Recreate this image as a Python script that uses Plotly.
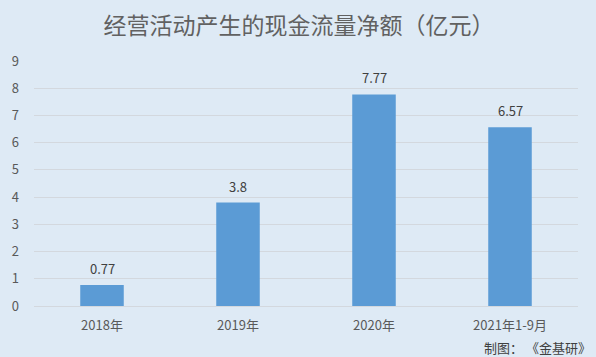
import plotly.graph_objects as go

categories = ["2018年", "2019年", "2020年", "2021年1-9月"]
values = [0.77, 3.8, 7.77, 6.57]
labels = ["0.77", "3.8", "7.77", "6.57"]
y_ticks = list(range(0, 10))

font_family = "Noto Sans CJK SC, Noto Sans, sans-serif"

fig = go.Figure(
    go.Bar(
        x=categories,
        y=values,
        marker=dict(color="#5b9bd5", line=dict(width=0)),
        hoverinfo="x+y",
    )
)

for cat, val, lab in zip(categories, values, labels):
    fig.add_annotation(
        x=cat,
        y=val,
        text=lab,
        showarrow=False,
        yanchor="bottom",
        yshift=5,
        font=dict(size=13, color="#404040", family=font_family),
    )

fig.update_layout(
    width=596,
    height=357,
    paper_bgcolor="#deeaf5",
    plot_bgcolor="#deeaf5",
    margin=dict(l=31, r=18, t=61, b=51),
    bargap=0.68,
    showlegend=False,
    title=dict(
        text="经营活动产生的现金流量净额（亿元）",
        xref="container",
        yref="container",
        x=299 / 596,
        xanchor="center",
        y=1 - 26 / 357,
        yanchor="middle",
        font=dict(size=23, color="#616161", family=font_family),
    ),
    font=dict(family=font_family, color="#595959", size=13),
)

fig.update_xaxes(
    showgrid=False,
    showline=False,
    ticks="",
    ticklabelstandoff=10,
    tickfont=dict(size=13, color="#595959"),
)
fig.update_yaxes(
    range=[0, 9],
    tickvals=y_ticks,
    showgrid=True,
    gridcolor="#d3d8de",
    gridwidth=1,
    zeroline=True,
    zerolinecolor="#d3d8de",
    zerolinewidth=1,
    ticks="",
    ticklabelstandoff=14,
    tickfont=dict(size=13, color="#595959"),
)

fig.add_annotation(
    text="制图： 《金基研》",
    xref="paper",
    yref="paper",
    x=1.0,
    xanchor="right",
    y=0,
    yanchor="middle",
    xshift=15,
    yshift=-41,
    showarrow=False,
    font=dict(size=13, color="#404040", family=font_family),
)

fig.write_html(
    "out.html",
    config={"displayModeBar": False},
    post_script="document.body.style.margin='0';document.body.style.overflow='hidden';",
)
